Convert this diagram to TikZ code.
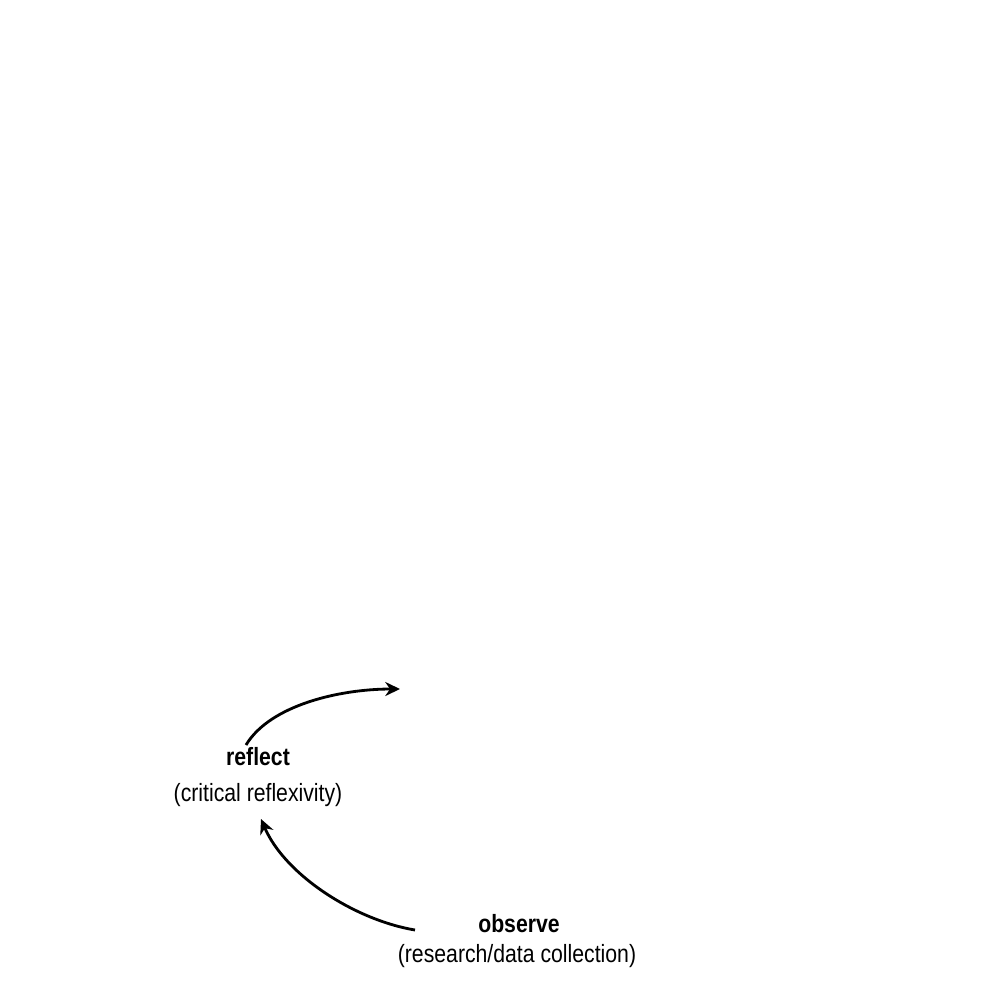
\documentclass[tikz,border=0pt]{standalone}
\usepackage{fontspec}
\setmainfont[FakeStretch=0.85]{Liberation Sans}
\usetikzlibrary{arrows.meta}
\begin{document}
\begin{tikzpicture}[x=0.01cm,y=-0.01cm,
  lbl/.style={anchor=base,inner sep=0pt,font=\fontsize{7.1pt}{8pt}\selectfont},
  head/.style={lbl,font=\fontsize{7.1pt}{8pt}\selectfont\bfseries},
  cyc/.style={line width=0.8pt,-{Stealth[length=4.2pt,width=4pt]}}]
\useasboundingbox[fill=white] (0,0) rectangle (1000,1000);
\node[head] (reflect) at (258,765) {reflect};
\node[lbl] (reflectsub) at (258,801) {(critical reflexivity)};
\node[head] (observe) at (519,932) {observe};
\node[lbl] (observesub) at (517,962) {(research/data collection)};
\coordinate (r1) at (246,745);
\coordinate (r2) at (400,689);
\coordinate (o1) at (415,930);
\coordinate (o2) at (261,819);
\draw[cyc] (r1) .. controls (270,705) and (340,689) .. (r2);
\draw[cyc] (o1) .. controls (355,920) and (285,875) .. (o2);
\end{tikzpicture}
\end{document}
